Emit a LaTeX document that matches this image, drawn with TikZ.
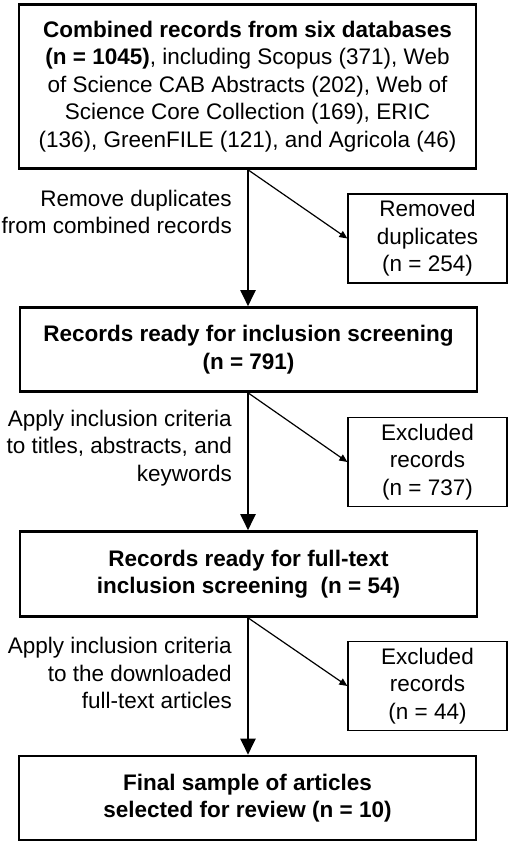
\documentclass[tikz,border=0pt]{standalone}
\usepackage{fontspec}
\setmainfont{Liberation Sans}
\usepackage{tikz}
\usetikzlibrary{arrows.meta,positioning}
\newcommand{\flowfont}{\fontsize{22.5}{27.5}\selectfont}

\begin{document}
\begin{tikzpicture}[x=1pt,y=-1pt,
  stagebox/.style={draw,line width=2.6pt,minimum width=457pt,align=center,inner sep=0pt,font=\flowfont},
  boldbox/.style={stagebox,font=\flowfont\bfseries},
  sidebox/.style={draw,line width=1.3pt,minimum width=159pt,minimum height=89pt,align=center,inner sep=0pt,font=\flowfont},
  steplabel/.style={anchor=east,align=right,inner sep=0pt,font=\flowfont},
  mainarrow/.style={line width=2pt,-{Triangle[length=16pt,width=15pt]}},
  sidearrow/.style={line width=1.2pt,-{Triangle[length=8pt,width=7pt]}}]
\useasboundingbox (0,0) rectangle (510,845);

\node[stagebox,minimum height=164pt] (combined) at (247.5,86.5)
  {\textbf{Combined records from six databases}\\
   \textbf{(n = 1045)}, including Scopus (371), Web\\
   of Science CAB Abstracts (202), Web of\\
   Science Core Collection (169), ERIC\\
   (136), GreenFILE (121), and Agricola (46)};
\node[boldbox,minimum height=84pt] (inclusion) at (248.5,349.5)
  {Records ready for inclusion screening\\(n = 791)};
\node[boldbox,minimum height=85pt] (fulltext) at (248.5,574)
  {Records ready for full-text\\inclusion screening\ \ (n = 54)};
\node[boldbox,minimum height=84pt] (final) at (247.5,798)
  {Final sample of articles\\selected for review (n = 10)};

\node[sidebox] (removed) at (427.5,238.5) {Removed\\duplicates\\(n = 254)};
\node[sidebox] (excluded) at (427.5,462) {Excluded\\records\\(n = 737)};
\node[sidebox] (excludedft) at (427.5,686) {Excluded\\records\\(n = 44)};

\node[steplabel] (dedup) at (232,212) {Remove duplicates\\from combined records};
\node[steplabel] (screen) at (232,448) {Apply inclusion criteria\\to titles, abstracts, and\\keywords};
\node[steplabel] (fullscreen) at (232,673) {Apply inclusion criteria\\to the downloaded\\full-text articles};

\coordinate (s1) at (248,0 |- combined.south);
\coordinate (s2) at (248,0 |- inclusion.south);
\coordinate (s3) at (248,0 |- fulltext.south);

\draw[mainarrow] (s1) -- (s1 |- inclusion.north);
\draw[mainarrow] (s2) -- (s2 |- fulltext.north);
\draw[mainarrow] (s3) -- (s3 |- final.north);

\draw[sidearrow] (s1) -- (removed.west);
\draw[sidearrow] (s2) -- (excluded.west);
\draw[sidearrow] (s3) -- (excludedft.west);
\end{tikzpicture}
\end{document}
